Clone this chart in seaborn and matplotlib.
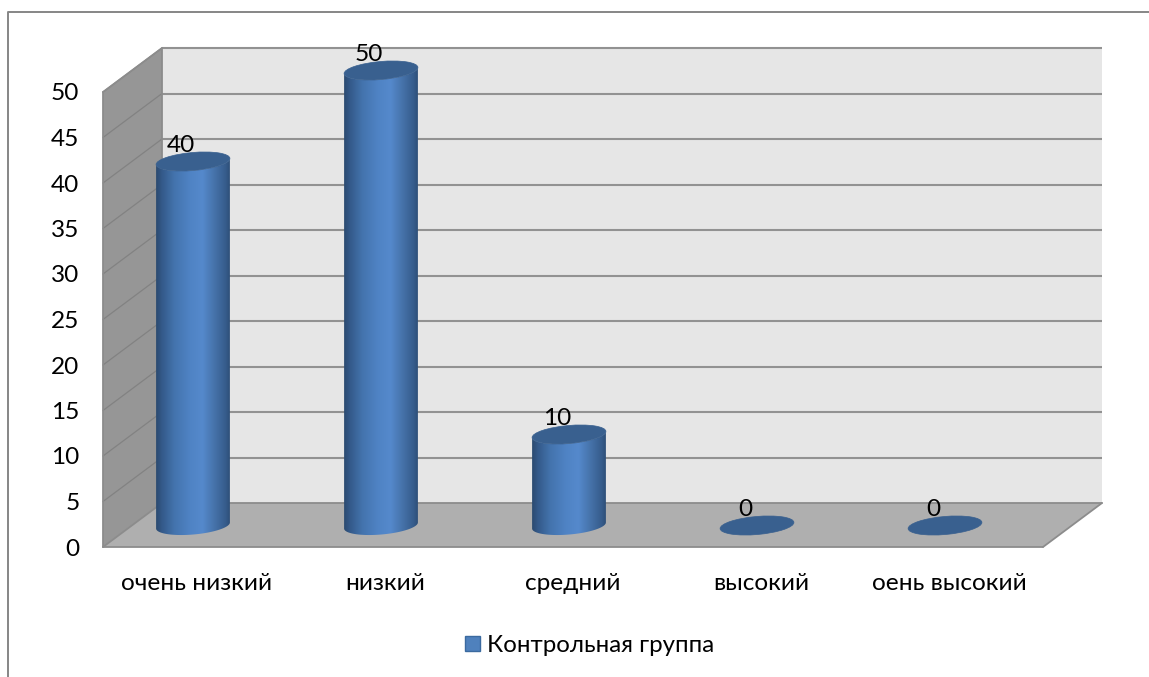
import numpy as np
import pandas as pd
import matplotlib
matplotlib.use("Agg")
import matplotlib.pyplot as plt
import seaborn as sns
from matplotlib.colors import LinearSegmentedColormap
from matplotlib.lines import Line2D
from matplotlib.patches import PathPatch, Polygon, Rectangle
from matplotlib.path import Path
from matplotlib.transforms import Affine2D, IdentityTransform

# Chart data
categories = ["очень низкий", "низкий", "средний", "высокий", "оень высокий"]
values = [40, 50, 10, 0, 0]
series_name = "Контрольная группа"
y_ticks = list(range(0, 55, 5))

FONT = ["Lato", "Noto Sans", "DejaVu Sans"]
FS = 17.6
W, H, DPI = 1149, 677, 100

sns.set_theme(style="white")
plt.rcParams["font.family"] = FONT

fig = plt.figure(figsize=(W / DPI, H / DPI), dpi=DPI, facecolor="white")
# Front plane of the box: x 103..1043, y 92..547 in image pixels
ax = fig.add_axes([103 / W, 1 - 547 / H, 940 / W, 455 / H])

frame = pd.DataFrame({"level": categories, "value": values, "group": series_name})
sns.barplot(data=frame, x="level", y="value", hue="group", width=0.394,
            palette=["#4F81BD"], legend=False, ax=ax, zorder=5)
ax.set_xlim(-0.5, len(categories) - 0.5)
ax.set_ylim(0, 50)
ax.set_xlabel("")
ax.set_ylabel("")
for s in ax.spines.values():
    s.set_visible(False)
ax.patch.set_visible(False)
ax.set_yticks(y_ticks)
ax.tick_params(axis="y", length=0, pad=17, labelsize=FS, labelcolor="black")
ax.tick_params(axis="x", length=0, pad=19, labelsize=FS, labelcolor="black")

# Depth offsets in pixels: back wall and the plane the cylinders stand on
DEPTH = (59, 44)
BAR_SHIFT = (-4, 21.5)
back_tf = ax.transData + Affine2D().translate(*DEPTH)
bar_tf = ax.transData + Affine2D().translate(*BAR_SHIFT)
xa, xb = ax.get_xlim()

WALL, SIDE, FLOOR = "#E6E6E6", "#969696", "#AFAFAF"
GRID, SIDE_GRID = "#929292", "#828282"

ax.add_patch(Rectangle((xa, 0), xb - xa, 50, transform=back_tf, fc=WALL, ec="none",
                       zorder=0, clip_on=False))


def box_poly(points, **kw):
    """Polygon from (x, y, in_back_plane) corners of the box."""
    verts = []
    for x, y, back in points:
        px = ax.transData.transform((x, y))
        verts.append(px + np.array(DEPTH) if back else px)
    p = Polygon(verts, closed=True, transform=IdentityTransform(), clip_on=False, **kw)
    ax.add_patch(p)
    return p


def pixel_line(p, q, **kw):
    line = Line2D([p[0], q[0]], [p[1], q[1]], transform=IdentityTransform(), **kw)
    ax.add_line(line)
    line.set_clip_on(False)


box_poly([(xa, 0, 0), (xa, 50, 0), (xa, 50, 1), (xa, 0, 1)], fc=SIDE, ec="none", zorder=1)
box_poly([(xa, 0, 0), (xa, 0, 1), (xb, 0, 1), (xb, 0, 0)], fc=FLOOR, ec="none", zorder=1)

for t in y_ticks:
    left = ax.transData.transform((xa, t))
    back = left + np.array(DEPTH)
    if t > 0:
        ax.plot([xa, xb], [t, t], transform=back_tf, color=GRID, lw=1.5, zorder=2,
                clip_on=False, solid_capstyle="butt")
        pixel_line(left, back, color=SIDE_GRID, lw=0.9, zorder=2)
# Box outline along the side wall and the floor edges
for a, b in [((xa, 50, 0), (xa, 50, 1)), ((xa, 0, 0), (xb, 0, 0)), ((xb, 0, 0), (xb, 0, 1)),
             ((xa, 0, 0), (xa, 50, 0)), ((xa, 0, 0), (xa, 0, 1)), ((xa, 0, 1), (xb, 0, 1)),
             ((xa, 0, 1), (xa, 50, 1))]:
    pa = ax.transData.transform(a[:2]) + (np.array(DEPTH) if a[2] else 0)
    pb = ax.transData.transform(b[:2]) + (np.array(DEPTH) if b[2] else 0)
    pixel_line(pa, pb, color="#8C8C8C", lw=1.3, zorder=2.5)

# Shaded cylinders built on the seaborn bars
shade = LinearSegmentedColormap.from_list(
    "cyl", [(0, "#2B4A70"), (0.08, "#345A8A"), (0.25, "#4474AE"), (0.45, "#4F83C4"),
            (0.62, "#5589CC"), (0.8, "#4470A6"), (0.93, "#365C8C"), (1, "#2C4C74")])
gradient = np.linspace(0, 1, 256)[None, :]
CAP = "#39608F"
TILT = 5
ELL_B = 9.0


def ellipse_tf(center_px, half_w):
    return Affine2D().scale(half_w, ELL_B).rotate_deg(TILT).translate(*center_px)


for bar, v in zip(list(ax.patches)[:len(values)], values):
    x0, w = bar.get_x(), bar.get_width()
    bar.set_transform(bar_tf)
    bar.set_facecolor("none")
    bar.set_edgecolor("none")
    bar.set_clip_on(False)
    base = bar_tf.transform((x0 + w / 2, 0))
    top = bar_tf.transform((x0 + w / 2, v))
    half = (bar_tf.transform((x0 + w, 0))[0] - bar_tf.transform((x0, 0))[0]) / 2
    if v > 0:
        # Silhouette: lower arc of the base ellipse joined to the cap
        t = np.radians(np.linspace(180, 360, 80))
        arc = np.column_stack([np.cos(t), np.sin(t)])
        lower = ellipse_tf(base, half).transform(arc)
        upper = ellipse_tf(top, half).transform(arc[::-1])
        body = Polygon(np.vstack([lower, upper]), closed=True, transform=IdentityTransform(),
                       fc="none", ec="none", zorder=4, clip_on=False)
        ax.add_patch(body)
        im = ax.imshow(gradient, cmap=shade, aspect="auto", zorder=5,
                       extent=(x0, x0 + w, -3, v + 2), transform=bar_tf)
        im.set_clip_box(fig.bbox)
        im.set_clip_path(body)
    cap = PathPatch(Path.unit_circle(), transform=ellipse_tf(top, half), fc=CAP, ec=CAP,
                    lw=0.5, zorder=6, clip_on=False)
    ax.add_patch(cap)
    ax.annotate(str(v), xy=(x0 + w / 2, v), xycoords=bar_tf, xytext=(-12, 16),
                textcoords="offset pixels", ha="center", va="center", fontsize=FS,
                color="black", zorder=7, annotation_clip=False)

ax.set_xlim(xa, xb)
ax.set_ylim(0, 50)

# Chart frame, cut off by the right and bottom edges
fig.add_artist(Line2D([8 / W, 8 / W, 1], [0, 1 - 12 / H, 1 - 12 / H], color="#868686", lw=1.4,
                      transform=fig.transFigure))

# Legend
handle = Rectangle((0, 0), 1, 1, fc="#4F81BD", ec="#3B6A9F", lw=1.0)
fig.legend([handle], [series_name], loc="center", bbox_to_anchor=(589.5 / W, 1 - 645.5 / H),
           frameon=False, fontsize=17.3, handlelength=0.62, handleheight=0.62, handletextpad=0.3,
           labelcolor="black")

fig.savefig("out.png", dpi=DPI, facecolor="white")
